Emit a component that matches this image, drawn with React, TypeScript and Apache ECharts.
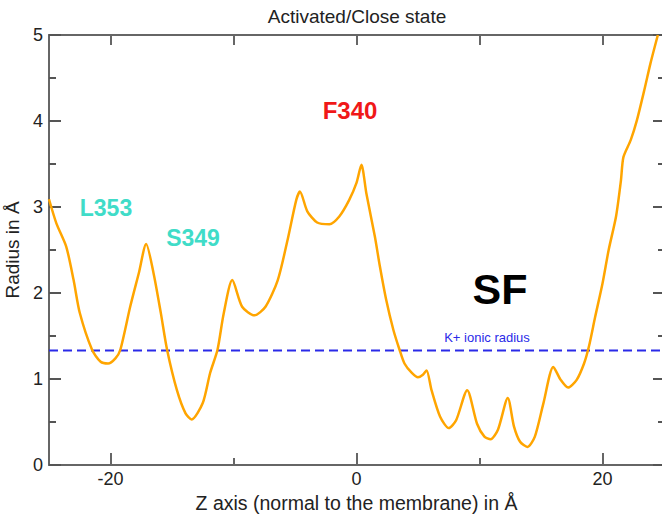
import React, { useEffect, useRef } from "react";
import * as echarts from "echarts";

const zAxis: number[] = [
  -25.0, -24.4, -23.6, -23.0, -22.5, -21.5, -20.8, -20.2, -19.6, -19.2, -18.4, -17.7, -17.1,
  -16.5, -15.9, -15.4, -14.6, -13.9, -13.4, -12.5, -11.9, -11.3, -10.8, -10.1, -9.3, -8.3,
  -7.4, -6.4, -5.6, -4.9, -4.6, -4.0, -3.2, -2.2, -1.4, -0.6, 0.0, 0.4, 0.8, 1.5, 1.9, 2.4,
  3.0, 3.5, 3.9, 4.5, 5.0, 5.4, 5.7, 6.1, 6.8, 7.5, 8.1, 9.0, 9.8, 10.4, 10.9, 11.5, 12.3,
  12.8, 13.3, 13.9, 14.5, 15.2, 16.0, 16.6, 17.2, 17.9, 18.5, 18.9, 19.4, 20.0, 20.5, 21.1,
  21.5, 21.7, 22.3, 22.8, 23.4, 23.9, 24.5,
];
const radius: number[] = [
  3.09, 2.81, 2.54, 2.15, 1.77, 1.34, 1.2, 1.18, 1.24, 1.34, 1.84, 2.23, 2.57,
  2.23, 1.76, 1.34, 0.87, 0.6, 0.53, 0.72, 1.07, 1.34, 1.76, 2.15, 1.84, 1.74,
  1.84, 2.15, 2.62, 3.08, 3.18, 2.95, 2.82, 2.8, 2.89, 3.08, 3.28, 3.49, 3.16, 2.65, 2.31, 1.93,
  1.57, 1.34, 1.18, 1.07, 1.02, 1.05, 1.1, 0.87, 0.56, 0.43, 0.52, 0.87, 0.48, 0.33, 0.3, 0.41, 0.78,
  0.45, 0.27, 0.21, 0.33, 0.72, 1.14, 0.99, 0.9, 0.99, 1.18, 1.38, 1.72, 2.11, 2.5, 2.89,
  3.31, 3.58, 3.78, 4.01, 4.36, 4.67, 5.0,
];
const kIonicRadius = 1.33;
const kLineZ: number[] = [-25, 25];
const xLabelTicks: number[] = [-20, 0, 20];
const xMinorTicks: number[] = [-10, 10];
const xTopTicks: number[] = [-20, -10, 0, 10, 20];

const FONT = "'Liberation Sans', Arial, sans-serif";
const AXIS_COLOR = "#666";
const TICK_COLOR = "#555";
const TEXT_COLOR = "#222";

const X_MIN = -25;
const X_MAX = 25;
const Y_MIN = 0;
const Y_MAX = 5;

function textEl(text: string, x: number, y: number, fontSize: number, fill: string, bold = false) {
  return {
    type: "text",
    x,
    y,
    silent: true,
    style: {
      text,
      fontFamily: FONT,
      fontSize,
      fontWeight: bold ? "bold" : "normal",
      fill,
      textAlign: "center",
      textVerticalAlign: "middle",
    },
  };
}

export default function App() {
  const ref = useRef<HTMLDivElement>(null);
  useEffect(() => {
    if (!ref.current) return;
    const chart = echarts.init(ref.current, undefined, { renderer: "svg" });
    const profile = zAxis.map((z, i) => [z, radius[i]]);
    const kLine = kLineZ.map((z) => [z, kIonicRadius]);
    const gridBox = { left: 49, top: 35, width: 615, height: 430, outerBoundsMode: "none", containLabel: false };
    const axisLine = { show: true, onZero: false, lineStyle: { color: AXIS_COLOR, width: 2 } };
    const tickStyle = (color: string) => ({ color, width: 2 });

    chart.setOption({
      animation: false,
      backgroundColor: "#fff",
      grid: [gridBox, { ...gridBox }],
      xAxis: [
        {
          gridIndex: 0,
          type: "value",
          min: X_MIN,
          max: X_MAX,
          position: "bottom",
          name: "Z axis (normal to the membrane) in Å",
          nameLocation: "middle",
          nameGap: 23,
          nameTextStyle: { fontFamily: FONT, fontSize: 19.5, color: TEXT_COLOR },
          splitLine: { show: false },
          axisLine,
          axisTick: {
            show: true,
            inside: true,
            length: 12,
            customValues: xLabelTicks,
            lineStyle: tickStyle(AXIS_COLOR),
          },
          axisLabel: {
            show: true,
            customValues: xLabelTicks,
            margin: 5,
            fontFamily: FONT,
            fontSize: 18,
            color: TEXT_COLOR,
          },
        },
        {
          gridIndex: 0,
          type: "value",
          min: X_MIN,
          max: X_MAX,
          position: "top",
          splitLine: { show: false },
          axisLine,
          axisTick: {
            show: true,
            inside: true,
            length: 10,
            customValues: xTopTicks,
            lineStyle: tickStyle(AXIS_COLOR),
          },
          axisLabel: { show: false },
        },
        {
          gridIndex: 1,
          type: "value",
          min: X_MIN,
          max: X_MAX,
          position: "bottom",
          splitLine: { show: false },
          axisLine: { show: false },
          axisTick: {
            show: true,
            inside: true,
            length: 7,
            customValues: xMinorTicks,
            lineStyle: tickStyle(AXIS_COLOR),
          },
          axisLabel: { show: false },
        },
      ],
      yAxis: [
        {
          gridIndex: 0,
          type: "value",
          min: Y_MIN,
          max: Y_MAX,
          interval: 1,
          position: "left",
          name: "Radius in Å",
          nameLocation: "middle",
          nameGap: 19,
          nameTextStyle: { fontFamily: FONT, fontSize: 19, color: TEXT_COLOR },
          splitLine: { show: false },
          axisLine,
          axisTick: { show: true, inside: true, length: 12, lineStyle: tickStyle(TICK_COLOR) },
          minorTick: { show: true, splitNumber: 2, length: 7, lineStyle: tickStyle(TICK_COLOR) },
          axisLabel: { margin: 6, fontFamily: FONT, fontSize: 18, color: TEXT_COLOR },
        },
        {
          gridIndex: 0,
          type: "value",
          min: Y_MIN,
          max: Y_MAX,
          interval: 1,
          position: "right",
          splitLine: { show: false },
          axisLine,
          axisTick: { show: true, inside: true, length: 11, lineStyle: tickStyle(TICK_COLOR) },
          minorTick: { show: true, splitNumber: 2, length: 6, lineStyle: tickStyle(TICK_COLOR) },
          axisLabel: { show: false },
        },
        {
          gridIndex: 1,
          type: "value",
          min: Y_MIN,
          max: Y_MAX,
          show: false,
        },
      ],
      series: [
        {
          name: "K+ ionic radius",
          type: "line",
          xAxisIndex: 0,
          yAxisIndex: 0,
          data: kLine,
          symbol: "none",
          silent: true,
          lineStyle: { color: "#2a2ae8", width: 2, type: [9, 5] },
          z: 2,
        },
        {
          name: "Radius",
          type: "line",
          xAxisIndex: 0,
          yAxisIndex: 0,
          data: profile,
          symbol: "none",
          smooth: 0.25,
          clip: true,
          lineStyle: { color: "#FFA500", width: 2.5 },
          z: 3,
        },
      ],
      graphic: [
        textEl("Activated/Close state", 357, 16, 19, TEXT_COLOR),
        textEl("F340", 350, 110, 24, "#f01818", true),
        textEl("L353", 106, 208, 23, "#40DCC8", true),
        textEl("S349", 193, 238, 23, "#40DCC8", true),
        textEl("SF", 500, 289, 43, "#000", true),
        textEl("K+ ionic radius", 487, 337, 13, "#2a2ae8"),
      ],
    });

    return () => chart.dispose();
  }, []);
  return <div ref={ref} style={{ width: 662, height: 515, position: "absolute", left: 0, top: 0 }} />;
}
